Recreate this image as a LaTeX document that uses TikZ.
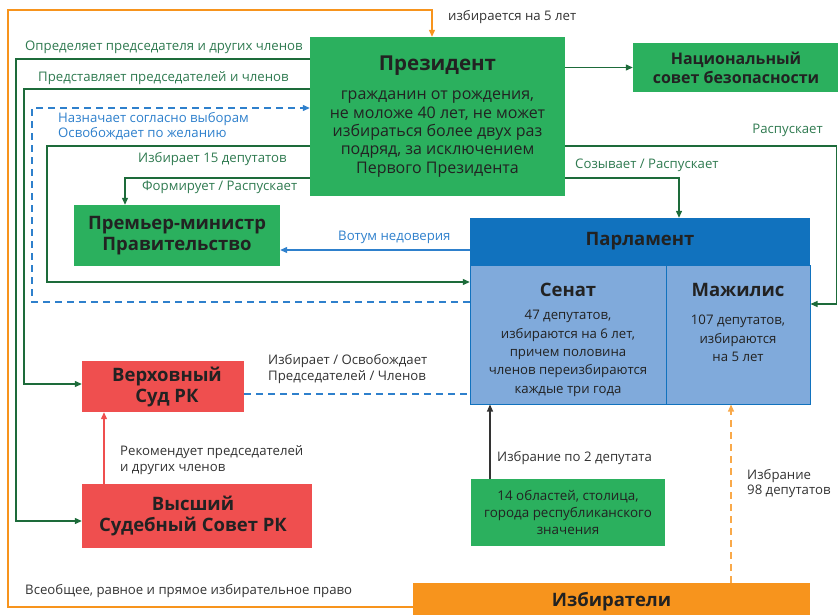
\documentclass[tikz,border=0pt]{standalone}
\usepackage{fontspec}
\setmainfont{Open Sans}
\usetikzlibrary{arrows.meta}
\definecolor{boxgreen}{HTML}{2BB05E}
\definecolor{linegreen}{HTML}{1D6B3A}
\definecolor{textgreen}{HTML}{2F7A50}
\definecolor{parlblue}{HTML}{1172BE}
\definecolor{cellblue}{HTML}{80AADB}
\definecolor{linkblue}{HTML}{2E80CC}
\definecolor{courtred}{HTML}{EF4F4F}
\definecolor{voteorange}{HTML}{F7941D}
\definecolor{darktext}{HTML}{222222}
\definecolor{labeltext}{HTML}{333333}
\begin{document}
\begin{tikzpicture}[x=1pt, y=-1pt,
    box/.style={inner sep=0pt, align=center, text=darktext},
    ttl/.style={font=\fontsize{18.5}{21}\selectfont\bfseries},
    lbl/.style={anchor=west, inner sep=0pt, align=left, font=\fontsize{13.2}{15.5}\selectfont},
    gline/.style={draw=linegreen, line width=1.2pt},
    tip/.style={-{Triangle[length=7pt, width=6pt]}}
]
\useasboundingbox (0,0) rectangle (838,614);

% boxes
\node[box, fill=boxgreen, minimum width=255pt, minimum height=159pt,
      font=\fontsize{16}{18.3}\selectfont] (pres) at (437.5,116.5)
      {{\fontsize{20.5}{22}\selectfont\bfseries Президент}\\[11pt]
       гражданин от рождения,\\ не моложе 40 лет, не может\\
       избираться более двух раз\\ подряд, за исключением\\ Первого Президента};
\node[box, fill=boxgreen, minimum width=206pt, minimum height=49pt,
      font=\fontsize{16}{19}\selectfont\bfseries] (nsc) at (736,67.5)
      {Национальный\\ совет безопасности};
\node[box, ttl, fill=boxgreen, minimum width=206pt, minimum height=61pt] (pm) at (177,235.5)
      {Премьер-министр\\ Правительство};
\node[box, ttl, fill=parlblue, minimum width=340pt, minimum height=47pt] (parl) at (640,241.5)
      {\raisebox{-4pt}{Парламент}};
\node[box, fill=cellblue, draw=parlblue, line width=1pt, minimum width=196pt, minimum height=139pt] (senate) at (568,334.5) {};
\node[box, fill=cellblue, draw=parlblue, line width=1pt, minimum width=144pt, minimum height=139pt] (maz) at (738,334.5) {};
\node[box, anchor=north, font=\fontsize{13.2}{18.3}\selectfont] (senatetxt) at (568,283)
      {{\fontsize{18.5}{21}\selectfont\bfseries Сенат}\\[5pt]
       47 депутатов,\\ избираются на 6 лет,\\ причем половина\\
       членов переизбираются\\ каждые три года};
\node[box, anchor=north, font=\fontsize{13.2}{18.5}\selectfont] (maztxt) at (738,283)
      {{\fontsize{18.5}{21}\selectfont\bfseries Мажилис}\\[10pt]
       107 депутатов,\\ избираются\\ на 5 лет};
\node[box, ttl, fill=courtred, minimum width=162pt, minimum height=51pt] (sc) at (163,386.5)
      {\hspace*{8pt}Верховный\\ \hspace*{8pt}Суд РК};
\node[box, ttl, fill=courtred, minimum width=230pt, minimum height=64pt] (hjc) at (197,516)
      {Высший\hspace*{8pt}\\ Судебный Совет РК\hspace*{8pt}};
\node[box, fill=boxgreen, minimum width=194pt, minimum height=67pt,
      font=\fontsize{13.4}{17}\selectfont] (obl) at (568,512.5)
      {14 областей, столица,\\ города республиканского\\ значения};
\node[box, ttl, fill=voteorange, minimum width=397pt, minimum height=37pt] (voters) at (611.5,601.5)
      {Избиратели};

% corner points
\coordinate (fbl) at (8,607);
\coordinate (ftl) at (8,10);
\coordinate (ftr) at (432,10);
\coordinate (rtop) at (836.5,146);
\coordinate (rbot) at (836.5,304);
\coordinate (conv) at (679,178);
\coordinate (form) at (125,178);
\coordinate (elect) at (47,146);
\coordinate (electb) at (47,282);
\coordinate (appt) at (32,302);
\coordinate (apptt) at (32,108);
\coordinate (repr) at (24,89);
\coordinate (reprb) at (24,384);
\coordinate (defn) at (16,59);
\coordinate (defnb) at (16,521);
\coordinate (sup) at (104,0);
\coordinate (obll) at (490,0);
\coordinate (vote) at (731,0);

% connectors
\draw[draw=voteorange, line width=1.2pt, tip] (voters.west |- fbl) -- (fbl) -- (ftl) -- (ftr) -- (ftr |- pres.north);
\draw[gline, tip] (pres.east |- nsc.west) -- (nsc.west);
\draw[gline, tip] (pres.east |- rtop) -- (rtop) -- (rbot) -- (maz.east |- rbot);
\draw[gline, tip] (pres.east |- conv) -- (conv) -- (conv |- parl.north);
\draw[draw=linkblue, line width=1.2pt, tip] (parl.west |- 0,250) -- (pm.east |- 0,250);
\draw[gline, tip] (pres.west |- form) -- (form) -- (form |- pm.north);
\draw[gline, tip] (pres.west |- elect) -- (elect) -- (electb) -- (parl.west |- electb);
\draw[draw=linkblue, line width=1.2pt, dash pattern=on 7pt off 5pt, tip] (parl.west |- appt) -- (appt) -- (apptt) -- (pres.west |- apptt);
\draw[gline, tip] (pres.west |- repr) -- (repr) -- (reprb) -- (sc.west |- reprb);
\draw[gline, tip] (pres.west |- defn) -- (defn) -- (defnb) -- (hjc.west |- defnb);
\draw[draw=courtred, line width=1.2pt, tip] (hjc.north -| sup) -- (sc.south -| sup);
\draw[draw=linkblue, line width=1.2pt, dash pattern=on 7pt off 5pt] (sc.east |- 0,394) -- (senate.west |- 0,394);
\draw[draw=labeltext, line width=1.2pt, tip] (obl.north -| obll) -- (senate.south -| obll);
\draw[draw=voteorange!80, line width=1.2pt, dash pattern=on 7pt off 5pt, tip] (voters.north -| vote) -- (maz.south -| vote);

% labels
\node[lbl, text=labeltext] (l5) at (448,17) {избирается на 5 лет};
\node[lbl, text=textgreen, anchor=east] (ldiss) at (823,130) {Распускает};
\node[lbl, text=textgreen] (lconv) at (575,165) {Созывает / Распускает};
\node[lbl, text=linkblue] (lvote) at (338,237) {Вотум недоверия};
\node[lbl, text=textgreen] (lform) at (142,187) {Формирует / Распускает};
\node[lbl, text=textgreen] (lelect) at (138,159) {Избирает 15 депутатов};
\node[lbl, text=linkblue] (lappt) at (58,126) {Назначает согласно выборам\\ Освобождает по желанию};
\node[lbl, text=textgreen] (lrepr) at (38,78) {Представляет председателей и членов};
\node[lbl, text=textgreen] (ldefn) at (25,47) {Определяет председателя и других членов};
\node[lbl, text=labeltext] (lrec) at (120,460) {Рекомендует председателей\\ и других членов};
\node[lbl, text=labeltext] (lsc) at (268,369) {Избирает / Освобождает\\ Председателей / Членов};
\node[lbl, text=labeltext] (lobl) at (497,458) {Избрание по 2 депутата};
\node[lbl, text=labeltext] (l98) at (747,483.5) {Избрание\\ 98 депутатов};
\node[lbl, text=labeltext] (lall) at (25,591) {Всеобщее, равное и прямое избирательное право};
\end{tikzpicture}
\end{document}
